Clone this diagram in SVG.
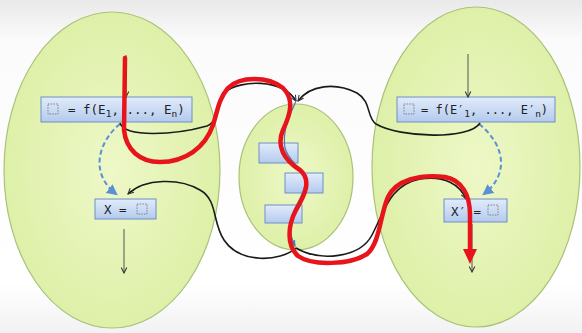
<svg xmlns="http://www.w3.org/2000/svg" width="582" height="333" viewBox="0 0 582 333">
<defs>
<linearGradient id="bg" x1="0" y1="0" x2="0" y2="1">
<stop offset="0" stop-color="#e9e9e9"/><stop offset="0.12" stop-color="#fbfbfb"/><stop offset="0.85" stop-color="#ffffff"/><stop offset="1" stop-color="#f2f2f2"/>
</linearGradient>
<radialGradient id="eg" cx="0.5" cy="0.5" r="0.5">
<stop offset="0" stop-color="#eef8c8"/><stop offset="1" stop-color="#def0a8"/>
</radialGradient>
<linearGradient id="bx" x1="0" y1="0" x2="0" y2="1">
<stop offset="0" stop-color="#e2ecfa"/><stop offset="1" stop-color="#b3caee"/>
</linearGradient>
<marker id="ah" viewBox="0 0 10 10" refX="9" refY="5" markerWidth="7" markerHeight="7" orient="auto" markerUnits="userSpaceOnUse">
<path d="M1,1 L9,5 L1,9" fill="none" stroke="#333" stroke-width="1.5"/>
</marker>
<marker id="bh" viewBox="0 0 10 10" refX="8" refY="5" markerWidth="11" markerHeight="11" orient="auto" markerUnits="userSpaceOnUse">
<path d="M0,0 L10,5 L0,10 Z" fill="#5b8fd6"/>
</marker>
<marker id="th" viewBox="0 0 10 10" refX="8" refY="5" markerWidth="7" markerHeight="7" orient="auto" markerUnits="userSpaceOnUse">
<path d="M0,1 L10,5 L0,9 Z" fill="#4a78b8"/>
</marker>
<style>
.ell{fill:url(#eg);stroke:#a9c27a;stroke-width:1.2}
.box{fill:url(#bx);stroke:#6e8fc4;stroke-width:1}
.t{font-family:"DejaVu Sans Mono","Liberation Mono",monospace;font-size:12.5px;fill:#222}
.sub{font-size:9.5px}
.ph{fill:none;stroke:#777;stroke-width:0.9;stroke-dasharray:1.5,1.2}
.flow{fill:none;stroke:#555;stroke-width:1;marker-end:url(#ah)}
.conn{fill:none;stroke:#1a1a1a;stroke-width:1.6;marker-end:url(#ah)}
.dash{fill:none;stroke:#5b8fd6;stroke-width:2;stroke-dasharray:5,3;marker-end:url(#bh)}
.red{fill:none;stroke:#e8141b;stroke-width:4.5;stroke-linecap:round;stroke-linejoin:round}
</style>
</defs>
<rect x="0" y="0" width="582" height="333" fill="url(#bg)"/>

<g id="proc-left"><ellipse class="ell" cx="112" cy="170" rx="108" ry="158"/></g>
<g id="proc-right"><ellipse class="ell" cx="476" cy="167" rx="104" ry="160"/></g>
<g id="proc-mid">
<ellipse class="ell" cx="296" cy="177" rx="57" ry="73"/>
</g>
<g id="mid-box1"><rect class="box" x="259" y="143" width="39" height="20"/></g>
<g id="mid-box2"><rect class="box" x="285" y="173" width="38" height="20"/></g>
<g id="mid-box3"><rect class="box" x="265" y="205" width="37" height="18"/></g>

<g id="call-left">
<rect class="box" x="41" y="97" width="151" height="25"/>
<rect class="ph" x="48" y="104" width="10" height="10"/>
<text class="t" x="68" y="114">= f(E<tspan class="sub" dy="3">1</tspan><tspan dy="-3">, ..., E</tspan><tspan class="sub" dy="3">n</tspan><tspan dy="-3">)</tspan></text>
</g>
<g id="assign-left">
<rect class="box" x="95" y="199" width="61" height="20"/>
<rect class="ph" x="137" y="204" width="10" height="10"/>
<text class="t" x="104" y="214">X =</text>
</g>
<g id="call-right">
<rect class="box" x="397" y="97" width="158" height="25"/>
<rect class="ph" x="404" y="104" width="10" height="10"/>
<text class="t" x="421" y="114" style="font-size:12px">= f(E′<tspan class="sub" dy="3">1</tspan><tspan dy="-3">, ..., E′</tspan><tspan class="sub" dy="3">n</tspan><tspan dy="-3">)</tspan></text>
</g>
<g id="assign-right">
<rect class="box" x="444" y="199" width="63" height="23"/>
<rect class="ph" x="488" y="205" width="10" height="10"/>
<text class="t" x="451" y="216">X′ =</text>
</g>

<g id="connectors">
<path class="flow" d="M126,55 L126,97"/>
<path class="flow" d="M124,229 L124,273"/>
<path class="flow" d="M468,54 L468,97"/>
<path class="flow" d="M472,224 L472,272"/>
<path class="dash" d="M120,124 C100,140 88,172 116,194"/>
<path class="dash" d="M479,124 C502,142 512,172 484,194"/>
<path class="conn" d="M120,123 C125,138 175,135 207,126 C222,120 215,100 225,92 C240,80 282,78 296,101"/>
<path class="conn" d="M480,123 C470,140 400,138 376,124 C366,117 372,102 357,93 C335,82 310,85 298,101"/>
<path class="conn" d="M296,248 C280,262 240,264 224,240 C212,222 218,200 200,190 C180,178 145,178 128,194"/>
<path class="conn" d="M296,248 C320,262 360,258 372,235 C385,210 390,185 420,179 C445,175 460,185 466,199"/>
<path fill="none" stroke="#4a78b8" stroke-width="1.2" marker-end="url(#th)" d="M296,101 C290,115 282,130 285,148 C288,162 306,170 305,183 C304,198 290,210 290,225 C290,235 292,240 295,246"/>
<path class="red" d="M125,58 L124,130 C126,150 140,162 160,162 C185,162 205,148 213,125 C218,110 218,100 228,88 C240,76 268,76 283,88 C295,100 290,115 283,130 C276,146 284,160 300,170 C312,180 305,195 296,210 C288,225 286,245 298,256 C312,266 350,265 367,254 C380,243 380,215 388,197 C396,180 420,174 445,177 C462,180 470,195 470,215 L470,250"/>
<path d="M463,249 L477,249 L470,264 Z" fill="#e8141b"/>
</g>
</svg>
